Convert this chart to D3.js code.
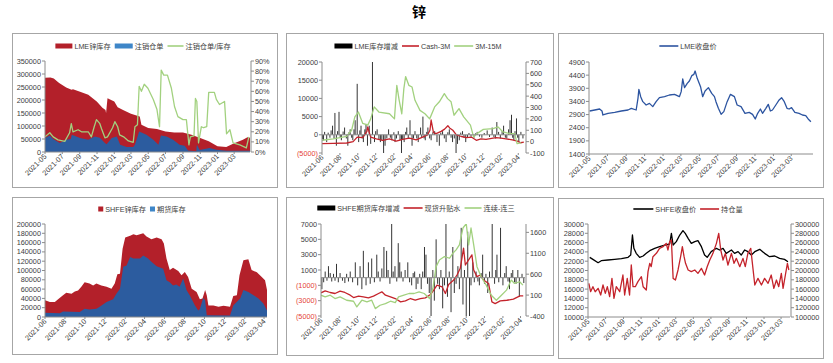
<!DOCTYPE html>
<html>
<head>
<meta charset="utf-8">
<script src="https://cdn.jsdelivr.net/npm/d3@7"></script>
<style>
  body { margin: 0; background: #fff; }
  svg text { font-family: "Liberation Sans", "Noto Sans CJK SC", sans-serif; }
</style>
</head>
<body>
<svg id="chart" width="833" height="363"></svg>
<script>
// ---- data ----

// x axis tick labels
var monthsOdd = ["2021-05","2021-07","2021-09","2021-11","2022-01","2022-03","2022-05","2022-07","2022-09","2022-11","2023-01","2023-03"];
var monthsEven = ["2021-06","2021-08","2021-10","2021-12","2022-02","2022-04","2022-06","2022-08","2022-10","2022-12","2023-02","2023-04"];

// panel 1: LME zinc stock, cancelled warrants, ratio
var lmeStock = [["2021-05-01",286000],["2021-05-20",287000],["2021-06-01",283000],["2021-06-20",265000],["2021-07-15",248000],["2021-08-03",239000],["2021-08-08",241000],["2021-09-02",232000],["2021-10-01",220000],["2021-10-31",194000],["2021-11-20",170000],["2021-12-01",162000],["2021-12-03",150000],["2021-12-08",207000],["2022-01-01",194000],["2022-01-13",172000],["2022-02-01",162000],["2022-03-01",147000],["2022-04-01",137000],["2022-04-07",105000],["2022-05-01",92000],["2022-06-01",88000],["2022-07-01",79000],["2022-08-01",75000],["2022-09-01",75000],["2022-10-01",66000],["2022-11-01",54000],["2022-12-01",41000],["2023-01-01",22000],["2023-02-01",19000],["2023-03-01",34000],["2023-04-01",47000],["2023-04-17",57000],["2023-04-26",55000]];
var lmeCancel = [["2021-05-01",54000],["2021-05-18",63000],["2021-05-30",50000],["2021-06-22",35000],["2021-07-15",47000],["2021-07-31",50000],["2021-08-04",66000],["2021-09-02",54000],["2021-10-01",47000],["2021-10-24",60000],["2021-11-11",55000],["2021-11-29",35000],["2021-12-05",30000],["2021-12-23",54000],["2022-01-10",60000],["2022-01-22",28000],["2022-02-14",19000],["2022-03-09",19000],["2022-03-15",28000],["2022-03-30",79000],["2022-04-25",66000],["2022-05-19",47000],["2022-06-06",28000],["2022-06-15",63000],["2022-07-05",60000],["2022-07-28",47000],["2022-08-20",28000],["2022-09-07",24000],["2022-09-19",6000],["2022-10-18",3000],["2022-10-20",28000],["2022-10-30",8000],["2022-12-04",15000],["2022-12-28",9000],["2023-02-02",5000],["2023-04-26",5000]];
var lmeRatio = [["2021-05-01",0.15],["2021-05-18",0.19],["2021-05-30",0.15],["2021-06-16",0.12],["2021-07-10",0.105],["2021-07-27",0.19],["2021-08-02",0.28],["2021-08-08",0.20],["2021-08-26",0.22],["2021-09-07",0.20],["2021-10-01",0.20],["2021-10-12",0.15],["2021-10-22",0.25],["2021-10-30",0.32],["2021-11-11",0.28],["2021-11-17",0.23],["2021-11-29",0.14],["2021-12-08",0.15],["2021-12-26",0.24],["2022-01-03",0.30],["2022-01-13",0.25],["2022-01-20",0.17],["2022-02-03",0.15],["2022-02-20",0.11],["2022-03-09",0.095],["2022-03-15",0.25],["2022-03-24",0.27],["2022-03-30",0.65],["2022-04-07",0.60],["2022-04-17",0.67],["2022-04-30",0.63],["2022-05-19",0.52],["2022-06-01",0.42],["2022-06-10",0.25],["2022-06-16",0.81],["2022-06-25",0.76],["2022-07-08",0.76],["2022-07-22",0.63],["2022-08-02",0.45],["2022-08-14",0.35],["2022-09-01",0.32],["2022-09-13",0.32],["2022-09-22",0.07],["2022-09-27",0.15],["2022-10-10",0.16],["2022-10-15",0.53],["2022-10-20",0.50],["2022-10-26",0.09],["2022-11-05",0.25],["2022-11-13",0.24],["2022-11-24",0.25],["2022-12-01",0.59],["2022-12-21",0.59],["2022-12-28",0.52],["2023-01-08",0.47],["2023-01-26",0.50],["2023-02-02",0.18],["2023-02-14",0.22],["2023-02-25",0.09],["2023-03-21",0.07],["2023-04-13",0.04],["2023-04-22",0.15]];

// panel 2: LME stock change, Cash-3M, 3M-15M
var lmeChange = [["2021-06-03",-1200],["2021-06-06",-1500],["2021-06-10",800],["2021-06-17",-2000],["2021-06-22",600],["2021-06-28",-800],["2021-07-02",1200],["2021-07-07",2500],["2021-07-12",-1000],["2021-07-15",6000],["2021-07-20",-3000],["2021-07-24",1000],["2021-07-29",6300],["2021-08-02",-800],["2021-08-06",-1500],["2021-08-12",900],["2021-08-17",2000],["2021-08-23",-1000],["2021-08-28",-3000],["2021-09-01",700],["2021-09-05",1500],["2021-09-10",-800],["2021-09-14",-1500],["2021-09-18",1500],["2021-09-22",4000],["2021-09-29",14000],["2021-10-04",-2000],["2021-10-08",1200],["2021-10-12",2500],["2021-10-16",-1000],["2021-10-20",-2000],["2021-10-25",1500],["2021-10-29",3000],["2021-11-03",-3000],["2021-11-09",2500],["2021-11-14",-2500],["2021-11-20",20000],["2021-11-27",-2000],["2021-12-01",1000],["2021-12-06",1500],["2021-12-12",-1200],["2021-12-17",-2000],["2021-12-22",-1500],["2021-12-28",-5000],["2022-01-02",-3000],["2022-01-08",-1000],["2022-01-14",1500],["2022-01-20",-800],["2022-01-25",-1500],["2022-02-01",700],["2022-02-05",-2000],["2022-02-10",-1000],["2022-02-16",1000],["2022-02-22",-1500],["2022-02-27",-5000],["2022-03-03",-1200],["2022-03-08",-2000],["2022-03-13",800],["2022-03-17",2000],["2022-03-22",-1000],["2022-03-28",4000],["2022-04-04",-3000],["2022-04-09",-1000],["2022-04-14",1000],["2022-04-20",-1000],["2022-04-25",-2000],["2022-05-03",2000],["2022-05-07",-800],["2022-05-11",5000],["2022-05-15",-1000],["2022-05-19",-1500],["2022-05-24",800],["2022-05-28",2000],["2022-06-03",-1000],["2022-06-08",-1500],["2022-06-14",700],["2022-06-20",1000],["2022-06-28",-2000],["2022-07-06",-3000],["2022-07-11",600],["2022-07-17",1000],["2022-07-23",-1000],["2022-07-29",-2000],["2022-08-04",700],["2022-08-09",1500],["2022-08-15",-800],["2022-08-20",-2000],["2022-08-26",-1000],["2022-09-01",-6500],["2022-09-06",-2500],["2022-09-12",-1500],["2022-09-17",600],["2022-09-23",1000],["2022-09-28",-800],["2022-10-04",-2000],["2022-10-10",-600],["2022-10-15",500],["2022-10-22",-500],["2022-11-01",-800],["2022-11-06",400],["2022-11-12",800],["2022-11-20",-500],["2022-11-28",-800],["2022-12-06",500],["2022-12-16",1200],["2022-12-24",-600],["2023-01-02",2000],["2023-01-08",-600],["2023-01-13",-1000],["2023-01-18",3500],["2023-01-24",800],["2023-01-30",-1000],["2023-02-05",1000],["2023-02-10",2500],["2023-02-16",-800],["2023-02-21",-1000],["2023-02-27",1500],["2023-03-04",4000],["2023-03-09",5500],["2023-03-13",-800],["2023-03-17",-1500],["2023-03-21",1000],["2023-03-26",4500],["2023-03-30",-800],["2023-04-03",-2000],["2023-04-10",800],["2023-04-17",-1000]];
var cash3m = [["2021-06-01",-18],["2021-07-09",-15],["2021-08-24",-12],["2021-09-15",0],["2021-09-29",40],["2021-10-18",35],["2021-11-01",90],["2021-11-04",130],["2021-11-09",80],["2021-11-14",40],["2021-12-03",25],["2021-12-25",10],["2022-01-17",25],["2022-02-09",5],["2022-03-03",20],["2022-03-26",30],["2022-04-18",15],["2022-05-10",40],["2022-05-27",60],["2022-06-04",100],["2022-06-08",190],["2022-06-16",80],["2022-06-25",70],["2022-07-12",90],["2022-07-24",110],["2022-08-04",140],["2022-08-10",120],["2022-08-21",100],["2022-09-02",60],["2022-09-19",45],["2022-10-06",35],["2022-10-23",40],["2022-11-09",12],["2022-11-25",25],["2022-12-12",20],["2023-01-15",35],["2023-02-01",30],["2023-02-18",25],["2023-03-12",15],["2023-03-29",5],["2023-04-09",-10],["2023-04-20",-5]];
var spread3m15m = [["2021-06-01",12],["2021-07-09",25],["2021-08-24",47],["2021-09-10",100],["2021-09-21",217],["2021-10-03",260],["2021-10-18",160],["2021-11-04",145],["2021-11-14",200],["2021-11-26",305],["2021-12-12",260],["2022-01-17",245],["2022-02-03",200],["2022-02-11",495],["2022-02-19",365],["2022-02-28",245],["2022-03-07",466],["2022-03-13",572],["2022-03-24",495],["2022-04-04",480],["2022-04-14",363],["2022-05-01",275],["2022-05-18",245],["2022-06-03",200],["2022-06-20",305],["2022-07-06",350],["2022-07-23",422],["2022-08-03",378],["2022-08-15",350],["2022-08-25",232],["2022-09-11",290],["2022-09-27",217],["2022-10-20",145],["2022-10-31",40],["2022-11-11",70],["2022-12-03",108],["2023-01-05",115],["2023-01-22",130],["2023-02-08",85],["2023-03-03",70],["2023-03-20",70],["2023-03-28",-18],["2023-04-11",-10]];

// panel 3: LME close
var lmeClose = [["2021-05-03",3036],["2021-05-20",3074],["2021-06-05",3112],["2021-06-13",3036],["2021-06-16",2884],["2021-07-03",2947],["2021-07-25",2985],["2021-08-16",3036],["2021-09-07",3074],["2021-09-18",3137],["2021-10-04",3074],["2021-10-10",3518],["2021-10-13",3860],["2021-10-19",3581],["2021-10-26",3391],["2021-11-06",3264],["2021-11-17",3327],["2021-11-28",3201],["2021-12-09",3391],["2021-12-20",3543],["2022-01-06",3581],["2022-01-22",3645],["2022-02-08",3670],["2022-02-24",3581],["2022-03-02",3772],["2022-03-07",4253],["2022-03-13",3924],["2022-03-22",4089],["2022-03-29",4177],["2022-04-06",4380],["2022-04-13",4431],["2022-04-17",4558],["2022-04-24",4279],["2022-05-05",3962],["2022-05-12",3581],["2022-05-20",3797],["2022-05-31",3924],["2022-06-11",3708],["2022-06-20",3581],["2022-06-25",3391],["2022-07-03",3137],["2022-07-12",2909],["2022-07-21",3011],["2022-08-01",3391],["2022-08-12",3670],["2022-08-25",3581],["2022-09-03",3264],["2022-09-16",3201],["2022-09-29",2947],["2022-10-13",2985],["2022-10-24",2909],["2022-11-02",2732],["2022-11-10",2947],["2022-11-19",3112],["2022-11-26",2947],["2022-12-07",3137],["2022-12-15",3290],["2022-12-22",3036],["2022-12-29",3074],["2023-01-09",3264],["2023-01-20",3455],["2023-01-28",3543],["2023-02-06",3391],["2023-02-15",3137],["2023-02-22",3112],["2023-03-02",3163],["2023-03-13",2985],["2023-03-27",2947],["2023-04-07",2884],["2023-04-18",2858],["2023-04-26",2732],["2023-05-05",2630]];

// panel 4: SHFE zinc stock, futures stock
var shfeStock = [["2021-06-01",36000],["2021-06-16",32000],["2021-07-01",32000],["2021-07-11",38000],["2021-07-26",47000],["2021-08-05",52000],["2021-08-21",50000],["2021-08-31",55000],["2021-09-10",57000],["2021-09-20",65000],["2021-09-30",75000],["2021-10-15",72000],["2021-10-26",68000],["2021-11-05",72000],["2021-11-20",68000],["2021-12-06",65000],["2021-12-21",61000],["2021-12-31",72000],["2022-01-08",92000],["2022-01-16",93000],["2022-01-24",147000],["2022-02-01",171000],["2022-02-16",175000],["2022-02-26",178000],["2022-03-08",176000],["2022-03-28",180000],["2022-04-07",173000],["2022-04-22",167000],["2022-05-08",171000],["2022-05-23",167000],["2022-05-30",158000],["2022-06-07",126000],["2022-06-17",101000],["2022-06-27",106000],["2022-07-13",99000],["2022-07-23",90000],["2022-08-02",97000],["2022-08-12",86000],["2022-08-23",61000],["2022-09-07",54000],["2022-09-17",38000],["2022-09-25",40000],["2022-10-03",58000],["2022-10-08",47000],["2022-10-13",25000],["2022-10-28",25000],["2022-11-13",22000],["2022-11-28",24000],["2022-12-18",22000],["2022-12-28",45000],["2023-01-08",47000],["2023-01-16",90000],["2023-01-28",122000],["2023-02-12",124000],["2023-02-22",101000],["2023-03-10",96000],["2023-03-25",86000],["2023-04-04",79000],["2023-04-10",58000]];
var shfeFutures = [["2021-06-01",9000],["2021-07-16",8000],["2021-07-26",12000],["2021-09-15",11000],["2021-09-30",18000],["2021-10-15",16000],["2021-11-05",18000],["2021-11-15",22000],["2021-12-06",32000],["2021-12-26",38000],["2022-01-05",50000],["2022-01-16",61000],["2022-01-26",108000],["2022-02-05",111000],["2022-02-16",129000],["2022-02-26",126000],["2022-03-18",126000],["2022-03-28",132000],["2022-04-12",126000],["2022-04-22",119000],["2022-05-08",109000],["2022-05-28",104000],["2022-06-07",79000],["2022-06-17",75000],["2022-06-27",68000],["2022-07-07",70000],["2022-07-17",65000],["2022-07-28",83000],["2022-08-07",58000],["2022-08-17",47000],["2022-09-02",25000],["2022-09-12",14000],["2022-09-17",17000],["2022-09-27",41000],["2022-10-03",36000],["2022-10-08",4000],["2022-12-18",3000],["2022-12-28",25000],["2023-01-18",40000],["2023-01-28",58000],["2023-02-12",54000],["2023-02-28",47000],["2023-03-15",40000],["2023-03-30",29000],["2023-04-10",14000]];

// panel 5: SHFE futures stock change, spot premium, cont-3rd spread
var shfeChange = [["2021-06-04",-1500],["2021-06-10",-600],["2021-06-15",800],["2021-06-21",-400],["2021-06-26",1500],["2021-07-02",600],["2021-07-07",-500],["2021-07-13",500],["2021-07-18",-400],["2021-07-23",1800],["2021-07-29",-600],["2021-08-04",600],["2021-08-12",-400],["2021-08-20",-700],["2021-08-26",500],["2021-09-01",-500],["2021-09-07",800],["2021-09-15",-600],["2021-09-24",2000],["2021-10-02",-1000],["2021-10-10",1500],["2021-10-16",-1500],["2021-10-21",3500],["2021-10-30",-1000],["2021-11-07",2000],["2021-11-13",-800],["2021-11-18",2500],["2021-11-27",-600],["2021-12-05",3000],["2021-12-10",800],["2021-12-16",-500],["2021-12-22",1200],["2021-12-29",4000],["2022-01-07",3500],["2022-01-12",1000],["2022-01-18",-800],["2022-01-24",7500],["2022-01-29",800],["2022-02-04",1500],["2022-02-10",-500],["2022-02-15",4500],["2022-02-20",2000],["2022-02-25",800],["2022-03-03",-500],["2022-03-10",1000],["2022-03-19",2000],["2022-03-25",-600],["2022-04-01",-1000],["2022-04-06",600],["2022-04-11",800],["2022-04-16",-1500],["2022-04-22",-800],["2022-04-28",500],["2022-05-03",-1500],["2022-05-08",800],["2022-05-14",4000],["2022-05-19",3000],["2022-05-24",-800],["2022-05-30",-2000],["2022-06-05",-5000],["2022-06-11",1000],["2022-06-16",-3000],["2022-06-22",5000],["2022-06-27",-800],["2022-07-03",-1500],["2022-07-08",1000],["2022-07-14",-4000],["2022-07-20",-1000],["2022-07-25",7500],["2022-07-30",-2500],["2022-08-05",800],["2022-08-11",-4500],["2022-08-17",4000],["2022-08-22",-2000],["2022-08-28",-800],["2022-09-03",1500],["2022-09-08",-1500],["2022-09-14",6500],["2022-09-20",-3500],["2022-09-25",1000],["2022-10-01",-5000],["2022-10-06",6000],["2022-10-12",-5500],["2022-10-17",-1000],["2022-10-23",2000],["2022-10-28",-600],["2022-11-03",800],["2022-11-09",-500],["2022-11-14",-1000],["2022-11-20",600],["2022-11-25",3000],["2022-12-01",-800],["2022-12-06",500],["2022-12-12",-2000],["2022-12-18",800],["2022-12-27",7500],["2023-01-04",-800],["2023-01-08",1000],["2023-01-12",3000],["2023-01-18",-600],["2023-01-24",6500],["2023-02-01",-1000],["2023-02-07",600],["2023-02-12",1500],["2023-02-18",-500],["2023-02-23",-1500],["2023-03-01",600],["2023-03-06",1000],["2023-03-12",-600],["2023-03-17",-800],["2023-03-23",1000],["2023-03-28",-2500],["2023-04-06",500],["2023-04-12",-700]];
var spotPremium = [["2021-06-01",154],["2021-06-15",202],["2021-07-02",162],["2021-07-18",138],["2021-08-04",194],["2021-08-20",162],["2021-09-07",98],["2021-09-18",42],["2021-10-05",74],["2021-10-21",58],["2021-11-07",34],["2021-11-24",74],["2021-12-11",138],["2021-12-22",178],["2022-01-03",98],["2022-01-20",58],["2022-02-05",18],["2022-02-23",-63],["2022-03-11",-39],["2022-03-28",18],["2022-04-13",-20],["2022-04-30",18],["2022-05-17",34],["2022-06-03",114],["2022-06-14",218],["2022-06-25",339],["2022-07-12",299],["2022-07-23",138],["2022-08-03",355],["2022-08-20",459],["2022-08-31",580],["2022-09-11",740],["2022-09-22",1222],["2022-09-28",820],["2022-10-09",941],["2022-10-20",1061],["2022-10-26",700],["2022-11-06",540],["2022-11-17",580],["2022-11-28",459],["2022-12-15",379],["2022-12-26",-63],["2023-01-06",-103],["2023-01-23",-39],["2023-02-14",-23],["2023-03-08",2],["2023-03-30",82],["2023-04-10",82]];
var contSpread = [["2021-06-01",98],["2021-06-15",58],["2021-07-02",98],["2021-07-18",18],["2021-08-04",58],["2021-08-26",-23],["2021-09-18",-47],["2021-09-29",-183],["2021-10-16",-23],["2021-11-02",-63],["2021-11-18",-23],["2021-11-30",-223],["2021-12-16",-143],["2022-01-03",-103],["2022-01-20",-47],["2022-02-05",-80],["2022-02-16",58],["2022-03-06",98],["2022-03-23",138],["2022-04-09",138],["2022-04-26",178],["2022-05-13",138],["2022-05-31",18],["2022-06-11",258],["2022-06-22",780],["2022-07-03",941],["2022-07-20",1021],["2022-08-06",981],["2022-08-17",1101],["2022-08-28",1182],["2022-09-08",1302],["2022-09-20",1704],["2022-10-01",1808],["2022-10-09",1302],["2022-10-17",1704],["2022-10-26",1302],["2022-11-06",780],["2022-11-20",540],["2022-12-07",339],["2022-12-24",98],["2023-01-10",-23],["2023-01-27",98],["2023-02-13",218],["2023-03-01",459],["2023-03-12",379],["2023-03-29",419],["2023-04-09",339]];

// panel 6: SHFE close, open interest
var shfeClose = [["2021-05-07",22830],["2021-05-18",22400],["2021-06-05",21680],["2021-06-16",22110],["2021-07-09",22260],["2021-08-01",22400],["2021-08-25",22540],["2021-09-17",22830],["2021-09-26",23330],["2021-10-02",27630],["2021-10-07",24770],["2021-10-15",23690],["2021-10-27",22830],["2021-11-08",23120],["2021-11-19",23690],["2021-12-01",24260],["2021-12-18",24770],["2022-01-04",25120],["2022-01-22",25480],["2022-02-08",25700],["2022-02-14",27990],["2022-02-20",25480],["2022-03-03",26200],["2022-03-15",27630],["2022-03-26",28570],["2022-04-03",27990],["2022-04-13",26920],["2022-04-24",25840],["2022-05-06",26200],["2022-05-17",26420],["2022-05-29",25120],["2022-06-09",23330],["2022-06-18",22830],["2022-07-02",24050],["2022-07-20",24770],["2022-07-31",24410],["2022-08-12",24770],["2022-08-23",23690],["2022-09-10",24410],["2022-09-21",23690],["2022-10-03",24050],["2022-10-14",23330],["2022-10-26",24410],["2022-11-06",24050],["2022-11-18",23330],["2022-11-30",24050],["2022-12-17",24550],["2023-01-03",23690],["2023-01-20",22970],["2023-02-07",23120],["2023-02-24",22620],["2023-03-13",22400],["2023-03-25",21900]];
var openInterest = [["2021-05-04",172400],["2021-05-10",154400],["2021-05-18",165200],["2021-05-26",154400],["2021-06-05",161600],["2021-06-14",147300],["2021-06-22",168800],["2021-06-30",150900],["2021-07-07",165200],["2021-07-15",143700],["2021-07-23",183100],["2021-07-30",140100],["2021-08-07",165200],["2021-08-19",154400],["2021-08-30",190300],["2021-09-05",147300],["2021-09-14",183100],["2021-09-22",147300],["2021-09-28",211800],["2021-10-04",165200],["2021-10-12",165200],["2021-10-21",176000],["2021-11-02",186700],["2021-11-08",165200],["2021-11-19",158000],["2021-11-25",197500],["2021-12-01",215400],["2021-12-06",208200],["2021-12-12",229700],["2021-12-24",236900],["2022-01-04",247700],["2022-01-16",251200],["2022-01-27",258400],["2022-02-02",244100],["2022-02-08",262000],["2022-02-14",265600],["2022-02-20",183100],["2022-02-28",179500],["2022-03-09",201100],["2022-03-18",229700],["2022-03-24",251200],["2022-03-30",229700],["2022-04-04",215400],["2022-04-13",201100],["2022-04-24",197500],["2022-05-06",201100],["2022-05-17",193900],["2022-05-29",204600],["2022-06-09",190300],["2022-06-18",208200],["2022-06-27",222600],["2022-07-08",236900],["2022-07-20",258400],["2022-07-28",279900],["2022-08-04",244100],["2022-08-12",222600],["2022-08-20",236900],["2022-08-29",211800],["2022-09-10",236900],["2022-09-19",215400],["2022-09-27",226100],["2022-10-09",208200],["2022-10-20",226100],["2022-10-28",208200],["2022-11-06",236900],["2022-11-16",247700],["2022-11-21",219000],["2022-11-30",168800],["2022-12-11",183100],["2022-12-23",168800],["2023-01-03",183100],["2023-01-15",172400],["2023-01-26",190300],["2023-02-04",161600],["2023-02-13",179500],["2023-02-21",165200],["2023-03-02",193900],["2023-03-08",161600],["2023-03-16",190300],["2023-03-23",215400],["2023-03-28",201100]];

// axis ticks
var p1Left = d3.range(0, 350001, 50000), p1Right = d3.range(0, 0.91, 0.1);
var p2Left = d3.range(-5000, 20001, 5000), p2Right = d3.range(-100, 701, 100);
var p3Left = d3.range(1400, 4901, 500);
var p4Left = d3.range(0, 200001, 20000);
var p5Left = d3.range(-5000, 7001, 2000), p5Right = [-400, 100, 600, 1100, 1600];
var p6Left = d3.range(10000, 30001, 2000), p6Right = d3.range(100000, 300001, 20000);

// ---- drawing ----
var svg = d3.select("#chart");
var parse = d3.timeParse("%Y-%m-%d");
var parseMonth = d3.timeParse("%Y-%m");
var RED = "#B3202A", BLUE = "#2C5C9F", BLUE_LEG = "#3E86C8", GREEN = "#A2D17F", AXIS = "#8C8C8C", TXT = "#404040", NEG = "#E5403A";
var FS = 7.3;
var clipId = 0;

function pts(arr) { return arr.map(function(d) { return {date: parse(d[0]), v: d[1]}; }); }

// num format: plain, negatives in red parentheses
function numLabel(sel, v, negParen) {
  if (negParen && v < 0) sel.text("(" + Math.abs(v) + ")").attr("fill", NEG);
  else sel.text(v).attr("fill", TXT);
}

function makePanel(p) {
  // outer frame
  svg.append("rect").attr("x", p.box[0] + 0.5).attr("y", p.box[1] + 0.5)
    .attr("width", p.box[2] - p.box[0]).attr("height", p.box[3] - p.box[1])
    .attr("fill", "none").attr("stroke", "#A6A6A6");

  var x = d3.scaleTime().domain([parse(p.xDomain[0]), parse(p.xDomain[1])]).range([p.left, p.right]);
  var yL = d3.scaleLinear().domain(p.yL).range([p.bottom, p.top]);
  var yR = p.yR ? d3.scaleLinear().domain(p.yR).range([p.bottom, p.top]) : null;

  var id = "clip" + (clipId++);
  svg.append("clipPath").attr("id", id).append("rect")
    .attr("x", p.left).attr("y", p.top).attr("width", p.right - p.left).attr("height", p.bottom - p.top);
  var g = svg.append("g").attr("clip-path", "url(#" + id + ")");

  // left axis
  svg.append("line").attr("x1", p.left).attr("x2", p.left).attr("y1", p.top).attr("y2", p.bottom).attr("stroke", AXIS);
  p.leftTicks.forEach(function(t) {
    var yy = yL(t);
    svg.append("line").attr("x1", p.left - 3).attr("x2", p.left).attr("y1", yy).attr("y2", yy).attr("stroke", AXIS);
    svg.append("text").attr("x", p.left - 4).attr("y", yy + 2.5).attr("text-anchor", "end").attr("font-size", FS)
      .call(numLabel, t, p.negParen);
  });

  // right axis
  if (yR) {
    svg.append("line").attr("x1", p.right + 1).attr("x2", p.right + 1).attr("y1", p.top).attr("y2", p.bottom).attr("stroke", AXIS);
    p.rightTicks.forEach(function(t) {
      var yy = yR(t);
      svg.append("line").attr("x1", p.right + 1).attr("x2", p.right + 4).attr("y1", yy).attr("y2", yy).attr("stroke", AXIS);
      svg.append("text").attr("x", p.right + 5).attr("y", yy + 2.5).attr("font-size", FS).attr("fill", TXT)
        .text(p.rightFmt ? p.rightFmt(t) : t);
    });
  }

  // x axis line at zero (or at bottom)
  var zeroY = yL(Math.max(p.yL[0], 0));
  svg.append("line").attr("x1", p.left).attr("x2", p.right).attr("y1", zeroY).attr("y2", zeroY).attr("stroke", AXIS);

  // x tick labels, rotated
  p.xTicks.forEach(function(m) {
    var xx = x(parseMonth(m));
    svg.append("line").attr("x1", xx).attr("x2", xx).attr("y1", p.bottom).attr("y2", p.bottom + 2).attr("stroke", AXIS);
    svg.append("text").attr("transform", "translate(" + (xx + 2) + "," + (p.bottom + 5) + ") rotate(-45)")
      .attr("text-anchor", "end").attr("font-size", FS).attr("fill", TXT).text(m);
  });

  (p.series || []).forEach(function(s) {
    var sc = s.axis == "R" ? yR : yL;
    var data = pts(s.data);
    if (s.type == "area") {
      g.append("path").datum(data).attr("fill", s.color)
        .attr("d", d3.area().x(function(d) { return x(d.date); }).y0(sc(0)).y1(function(d) { return sc(d.v); }));
    } else if (s.type == "bar") {
      g.selectAll(null).data(data).enter().append("line")
        .attr("x1", function(d) { return x(d.date); }).attr("x2", function(d) { return x(d.date); })
        .attr("y1", sc(0)).attr("y2", function(d) { return sc(d.v); })
        .attr("stroke", s.color).attr("stroke-width", 0.8);
    } else {
      g.append("path").datum(data).attr("fill", "none").attr("stroke", s.color).attr("stroke-width", 1.3)
        .attr("stroke-linejoin", "round")
        .attr("d", d3.line().x(function(d) { return x(d.date); }).y(function(d) { return sc(d.v); }));
    }
  });

  legend(p.legend, p.legendX, p.legendY);
}

function legend(items, cx, cy) {
  var lg = svg.append("g");
  var xx = 0;
  items.forEach(function(it) {
    if (it.kind == "rect") {
      lg.append("rect").attr("x", xx).attr("y", cy - it.h / 2).attr("width", it.w).attr("height", it.h).attr("fill", it.color);
    } else {
      lg.append("line").attr("x1", xx).attr("x2", xx + it.w).attr("y1", cy).attr("y2", cy)
        .attr("stroke", it.color).attr("stroke-width", 1.6);
    }
    xx += it.w + 2;
    var t = lg.append("text").attr("x", xx).attr("y", cy + 2.6).attr("font-size", 7.2).attr("fill", TXT).text(it.label);
    xx += t.node().getComputedTextLength() + 4;
  });
  lg.attr("transform", "translate(" + (cx - xx / 2) + ",0)");
}

// title
svg.append("text").attr("x", 419).attr("y", 17).attr("text-anchor", "middle")
  .attr("font-size", 14).attr("font-weight", "bold").attr("fill", "#000")
  .style("font-family", "'Noto Sans CJK SC', sans-serif").text("锌");

makePanel({
  box: [12, 33, 277, 187], left: 45, right: 250, top: 61, bottom: 152,
  xDomain: ["2021-05-01", "2023-04-26"], xTicks: monthsOdd,
  yL: [0, 350000], leftTicks: p1Left, yR: [0, 0.9], rightTicks: p1Right,
  rightFmt: function(t) { return Math.round(t * 100) + "%"; },
  series: [
    {type: "area", data: lmeStock, color: RED},
    {type: "area", data: lmeCancel, color: BLUE},
    {type: "line", data: lmeRatio, color: GREEN, axis: "R"}
  ],
  legend: [{kind: "rect", w: 17, h: 5, color: RED, label: "LME锌库存"},
           {kind: "rect", w: 18, h: 5, color: BLUE_LEG, label: "注销仓单"},
           {kind: "line", w: 16, color: GREEN, label: "注销仓单/库存"}],
  legendX: 145, legendY: 46
});

makePanel({
  box: [286, 33, 553, 187], left: 322, right: 525, top: 62, bottom: 153,
  xDomain: ["2021-06-01", "2023-04-24"], xTicks: monthsEven,
  yL: [-5000, 20000], leftTicks: p2Left, negParen: true, yR: [-100, 700], rightTicks: p2Right,
  series: [
    {type: "bar", data: lmeChange, color: "#000"},
    {type: "line", data: cash3m, color: "#C4232B", axis: "R"},
    {type: "line", data: spread3m15m, color: GREEN, axis: "R"}
  ],
  legend: [{kind: "rect", w: 18, h: 5, color: "#000", label: "LME库存增减"},
           {kind: "line", w: 17, color: "#C4232B", label: "Cash-3M"},
           {kind: "line", w: 19, color: GREEN, label: "3M-15M"}],
  legendX: 420, legendY: 46
});

makePanel({
  box: [558, 33, 823, 187], left: 589, right: 813, top: 62, bottom: 154,
  xDomain: ["2021-05-01", "2023-05-12"], xTicks: monthsOdd,
  yL: [1400, 4900], leftTicks: p3Left,
  series: [{type: "line", data: lmeClose, color: "#2C54A0"}],
  legend: [{kind: "line", w: 19, color: "#2C54A0", label: "LME收盘价"}],
  legendX: 690, legendY: 46
});

makePanel({
  box: [12, 197, 277, 354], left: 45, right: 267, top: 224, bottom: 317,
  xDomain: ["2021-06-01", "2023-04-10"], xTicks: monthsEven,
  yL: [0, 200000], leftTicks: p4Left,
  series: [
    {type: "area", data: shfeStock, color: RED},
    {type: "area", data: shfeFutures, color: BLUE}
  ],
  legend: [{kind: "rect", w: 5, h: 5, color: RED, label: "SHFE锌库存"},
           {kind: "rect", w: 5, h: 5, color: BLUE_LEG, label: "期货库存"}],
  legendX: 144, legendY: 209
});

makePanel({
  box: [286, 197, 553, 355], left: 321, right: 525, top: 224, bottom: 316,
  xDomain: ["2021-06-01", "2023-04-16"], xTicks: monthsEven,
  yL: [-5000, 7000], leftTicks: p5Left, negParen: true, yR: [-400, 1800], rightTicks: p5Right,
  series: [
    {type: "bar", data: shfeChange, color: "#000"},
    {type: "line", data: spotPremium, color: "#C4232B", axis: "R"},
    {type: "line", data: contSpread, color: GREEN, axis: "R"}
  ],
  legend: [{kind: "rect", w: 18, h: 5, color: "#000", label: "SHFE期货库存增减"},
           {kind: "line", w: 19, color: "#C4232B", label: "现货升贴水"},
           {kind: "line", w: 17, color: GREEN, label: "连续-连三"}],
  legendX: 418, legendY: 208
});

makePanel({
  box: [558, 198, 823, 358], left: 588, right: 790, top: 224, bottom: 317,
  xDomain: ["2021-05-01", "2023-04-01"], xTicks: monthsOdd,
  yL: [10000, 30000], leftTicks: p6Left, yR: [100000, 300000], rightTicks: p6Right,
  series: [
    {type: "line", data: shfeClose, color: "#000"},
    {type: "line", data: openInterest, color: "#C4232B", axis: "R"}
  ],
  legend: [{kind: "line", w: 20, color: "#000", label: "SHFE收盘价"},
           {kind: "line", w: 19, color: "#C4232B", label: "持仓量"}],
  legendX: 690, legendY: 209
});
</script>
</body>
</html>
